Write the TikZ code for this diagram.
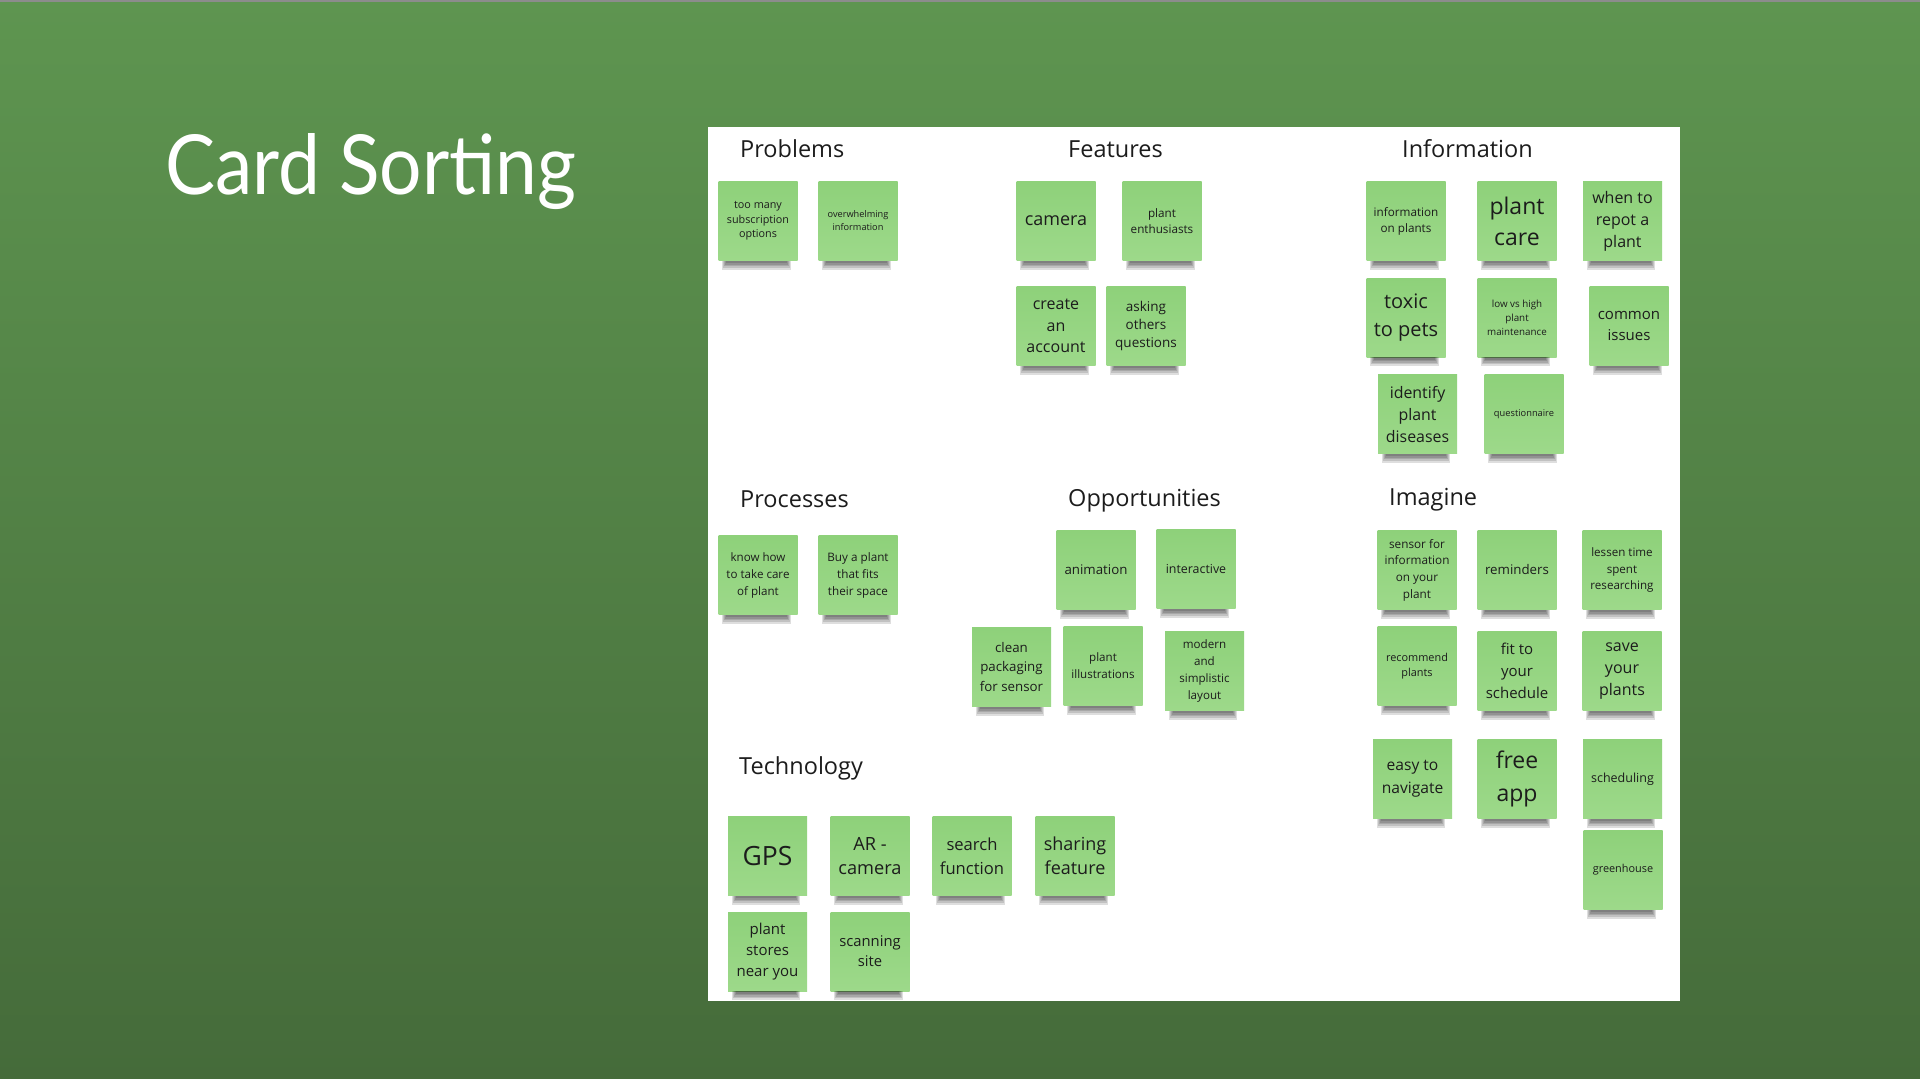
\documentclass[tikz,border=0pt]{standalone}
\usepackage{fontspec}
\setmainfont{Open Sans}
\newfontfamily\titlefont{Lato}
\usetikzlibrary{calc}
\definecolor{bgtop}{HTML}{5E9550}
\definecolor{bgbot}{HTML}{456B3A}
\definecolor{notetop}{HTML}{8ED17A}
\definecolor{notebot}{HTML}{9DD98A}
\definecolor{inkc}{HTML}{1C1C1C}
\tikzset{
  sticky/.style={rectangle, inner sep=0pt, minimum width=79pt, minimum height=79pt,
    top color=notetop, bottom color=notebot, draw=none, align=center, text=inkc},
  header/.style={anchor=base west, inner sep=0pt, text=inkc, font=\fontsize{23.5}{28}\selectfont},
  shlayer/.style={fill=black, fill opacity=0.13}
}
\newcommand\stickynote[6]{%
  \node[sticky, font=\fontsize{#4}{#5}\selectfont] (#1) at (#2,#3) {#6};
  \fill[shlayer] ($(#1.south west)+(4,0)$) rectangle ($(#1.south east)+(-7,9)$);
  \fill[shlayer] ($(#1.south west)+(5,0)$) rectangle ($(#1.south east)+(-8,7)$);
  \fill[shlayer] ($(#1.south west)+(6,0)$) rectangle ($(#1.south east)+(-9,5.5)$);
  \fill[shlayer] ($(#1.south west)+(7,0)$) rectangle ($(#1.south east)+(-10,4)$);
  \fill[shlayer] ($(#1.south west)+(8,0)$) rectangle ($(#1.south east)+(-11,2.5)$);
}
\begin{document}
\begin{tikzpicture}[x=1pt,y=-1pt]
\useasboundingbox (0,0) rectangle (1920,1079);
\shade[top color=bgtop, bottom color=bgbot] (0,0) rectangle (1920,1079);
\fill[black!45] (0,0) rectangle (1920,1.5);
% title
\node[anchor=base west, inner sep=0pt, text=white] (title) at (165,194)
  {\resizebox{411pt}{61pt}{\titlefont Card Sorting}};
% white board
\fill[white] (708,127) rectangle (1680,1001);
% headers
\node[header] (hprob) at (740,157) {Problems};
\node[header] (hfeat) at (1068,157) {Features};
\node[header] (hinfo) at (1402,157) {Information};
\node[header] (hproc) at (740,507) {Processes};
\node[header] (hopp) at (1068,506) {Opportunities};
\node[header] (himag) at (1389,505) {Imagine};
\node[header] (htech) at (739,774) {Technology};
% Problems
\stickynote{p1}{758}{221}{10.8}{14.5}{too many\\subscription\\options}
\stickynote{p2}{858}{221}{9.2}{13}{overwhelming\\information}
% Features
\stickynote{f1}{1056}{221}{18}{24}{camera}
\stickynote{f2}{1162}{221}{11.7}{16}{plant\\enthusiasts}
\stickynote{f3}{1056}{326}{16}{21.7}{create\\an\\account}
\stickynote{f4}{1146}{326}{13.5}{18.3}{asking\\others\\questions}
% Information
\stickynote{i1}{1406}{221}{11.7}{16}{information\\on plants}
\stickynote{i2}{1517}{221}{23}{31}{plant\\care}
\stickynote{i3}{1622.5}{221}{16}{22}{when to\\repot a\\plant}
\stickynote{i4}{1406}{317.5}{20}{27.7}{toxic\\to pets}
\stickynote{i5}{1517}{317.5}{9.8}{14}{low vs high\\plant\\maintenance}
\stickynote{i6}{1629}{326}{15}{20.5}{common\\issues}
\stickynote{i7}{1417.5}{414}{15.9}{22}{identify\\plant\\diseases}
\stickynote{i8}{1524}{414}{9.3}{13}{questionnaire}
% Processes
\stickynote{r1}{758}{575}{11.6}{17}{know how\\to take care\\of plant}
\stickynote{r2}{858}{575}{11.7}{17}{Buy a plant\\that fits\\their space}
% Opportunities
\stickynote{o1}{1096}{570}{13.3}{18}{animation}
\stickynote{o2}{1196}{569}{12.4}{17}{interactive}
\stickynote{o3}{1011.5}{667}{13.3}{19.6}{clean\\packaging\\for sensor}
\stickynote{o4}{1103}{666}{11.6}{17}{plant\\illustrations}
\stickynote{o5}{1204.5}{671}{11.6}{17}{modern\\and\\simplistic\\layout}
% Imagine
\stickynote{m1}{1417}{570}{11.75}{16.7}{sensor for\\information\\on your\\plant}
\stickynote{m2}{1517}{570}{13.3}{18}{reminders}
\stickynote{m3}{1622}{570}{11.6}{16.7}{lessen time\\spent\\researching}
\stickynote{m4}{1417}{666}{10.9}{15}{recommend\\plants}
\stickynote{m5}{1517}{671}{15}{21.7}{fit to\\your\\schedule}
\stickynote{m6}{1622}{671}{16}{22}{save\\your\\plants}
\stickynote{m7}{1412.5}{779}{15.6}{22.7}{easy to\\navigate}
\stickynote{m8}{1517}{779}{23}{33}{free\\app}
\stickynote{m9}{1622.5}{779}{12.5}{17}{scheduling}
\stickynote{m10}{1623}{870}{10.9}{15}{greenhouse}
% Technology
\stickynote{t1}{767.5}{856}{26.5}{32}{GPS}
\stickynote{t2}{870}{856}{18.2}{24.3}{AR -\\camera}
\stickynote{t3}{972}{856}{16.6}{24}{search\\function}
\stickynote{t4}{1075}{856}{18}{24}{sharing\\feature}
\stickynote{t5}{767.5}{951.5}{15}{21}{plant\\stores\\near you}
\stickynote{t6}{870}{951.5}{14.8}{20}{scanning\\site}
\end{tikzpicture}
\end{document}
